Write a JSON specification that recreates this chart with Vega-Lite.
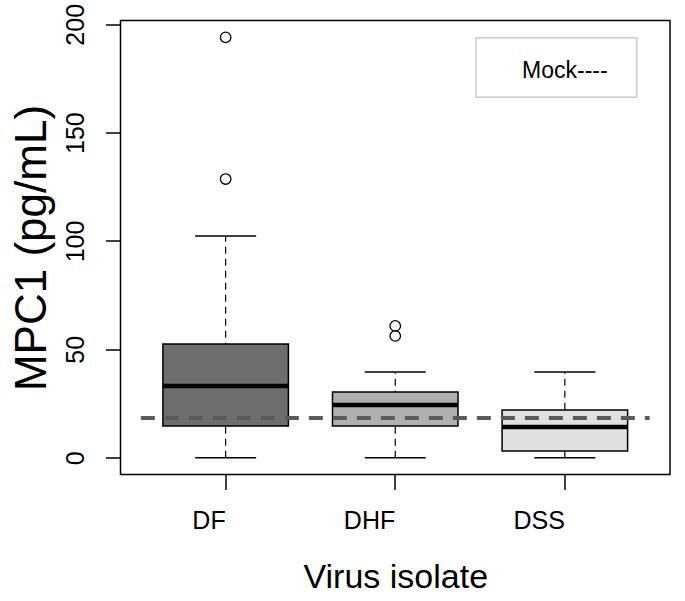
{
  "$schema": "https://vega.github.io/schema/vega-lite/v6.json",
  "autosize": "none",
  "width": 549.5,
  "height": 454,
  "padding": {"left": 120.5, "top": 20.5, "right": 15, "bottom": 126.5},
  "background": "white",
  "config": {
    "font": "Liberation Sans",
    "view": {"stroke": "black", "strokeWidth": 1.5}
  },
  "datasets": {
    "stats": [
      {"group": "DF", "lower": 0, "q1": 14.6, "median": 33.1, "q3": 52.5, "upper": 102.3},
      {"group": "DHF", "lower": 0, "q1": 14.6, "median": 24.3, "q3": 30.3, "upper": 39.5},
      {"group": "DSS", "lower": 0, "q1": 3.1, "median": 14.2, "q3": 22, "upper": 39.5}
    ],
    "outliers": [
      {"group": "DF", "value": 128.6},
      {"group": "DF", "value": 194},
      {"group": "DHF", "value": 56.2},
      {"group": "DHF", "value": 60.8}
    ],
    "one": [{}]
  },
  "layer": [
    {
      "layer": [
        {
          "data": {"name": "stats"},
          "mark": {"type": "rule", "color": "black", "strokeWidth": 1.2, "strokeDash": [7, 5]},
          "encoding": {
            "x": {"field": "group", "type": "nominal"},
            "y": {"field": "lower", "type": "quantitative"},
            "y2": {"field": "upper"}
          }
        },
        {
          "data": {"name": "stats"},
          "mark": {"type": "tick", "orient": "horizontal", "size": 61, "thickness": 1.5, "color": "black", "opacity": 1},
          "encoding": {
            "x": {"field": "group", "type": "nominal"},
            "y": {"field": "lower", "type": "quantitative"}
          }
        },
        {
          "data": {"name": "stats"},
          "mark": {"type": "tick", "orient": "horizontal", "size": 61, "thickness": 1.5, "color": "black", "opacity": 1},
          "encoding": {
            "x": {"field": "group", "type": "nominal"},
            "y": {"field": "upper", "type": "quantitative"}
          }
        },
        {
          "data": {"name": "stats"},
          "mark": {"type": "bar", "width": {"band": 0.74}, "stroke": "black", "strokeWidth": 1.5, "opacity": 1},
          "encoding": {
            "x": {"field": "group", "type": "nominal"},
            "y": {"field": "q1", "type": "quantitative"},
            "y2": {"field": "q3"},
            "fill": {
              "field": "group",
              "type": "nominal",
              "scale": {"domain": ["DF", "DHF", "DSS"], "range": ["#6e6e6e", "#b0b0b0", "#e0e0e0"]},
              "legend": null
            }
          }
        },
        {
          "data": {"name": "stats"},
          "mark": {"type": "tick", "orient": "horizontal", "size": 125, "thickness": 4.5, "color": "black", "opacity": 1},
          "encoding": {
            "x": {"field": "group", "type": "nominal"},
            "y": {"field": "median", "type": "quantitative"}
          }
        },
        {
          "data": {"name": "outliers"},
          "mark": {"type": "point", "shape": "circle", "filled": false, "size": 110, "stroke": "black", "strokeWidth": 1.3, "opacity": 1},
          "encoding": {
            "x": {
              "field": "group",
              "type": "nominal",
              "scale": {"domain": ["DF", "DHF", "DSS"], "paddingInner": 0, "paddingOuter": 0.12},
              "axis": {
                "title": "Virus isolate",
                "titleFontSize": 34,
                "titleFontWeight": "normal",
                "titleColor": "black",
                "titlePadding": 27,
                "labelAngle": 0,
                "labelFontSize": 25,
                "labelColor": "black",
                "labelPadding": 31,
                "tickSize": 15,
                "tickColor": "black",
                "tickWidth": 1.5,
                "domain": false,
                "grid": false
              }
            },
            "y": {
              "field": "value",
              "type": "quantitative",
              "scale": {"domain": [-7.76, 201.76], "nice": false, "zero": false},
              "axis": {
                "title": "MPC1 (pg/mL)",
                "titleFontSize": 44,
                "titleFontWeight": "normal",
                "titleColor": "black",
                "titlePadding": 9,
                "values": [0, 50, 100, 150, 200],
                "labelAngle": -90,
                "labelAlign": "center",
                "labelBaseline": "bottom",
                "labelFontSize": 25,
                "labelColor": "black",
                "labelPadding": 17,
                "tickSize": 15,
                "tickColor": "black",
                "tickWidth": 1.5,
                "domain": false,
                "grid": false
              }
            }
          }
        }
      ]
    },
    {
      "data": {"name": "one"},
      "layer": [
        {
          "mark": {"type": "rule", "color": "#5a5a5a", "strokeWidth": 4, "strokeDash": [14, 10]},
          "encoding": {
            "x": {"datum": 0.5, "type": "quantitative", "scale": {"domain": [0.38, 3.62], "nice": false, "zero": false}, "axis": null},
            "x2": {"datum": 3.5},
            "y": {"datum": 18.3, "type": "quantitative"}
          }
        },
        {
          "mark": {"type": "rect", "fill": "white", "stroke": "#c0c0c0", "strokeWidth": 1.2},
          "encoding": {
            "x": {"datum": 2.476, "type": "quantitative"},
            "x2": {"datum": 3.425},
            "y": {"datum": 193.7, "type": "quantitative"},
            "y2": {"datum": 166.4}
          }
        },
        {
          "mark": {"type": "text", "text": "Mock----", "fontSize": 23, "color": "black", "align": "center", "baseline": "middle"},
          "encoding": {
            "x": {"datum": 3.0, "type": "quantitative"},
            "y": {"datum": 178.5, "type": "quantitative"}
          }
        }
      ]
    }
  ],
  "resolve": {"scale": {"x": "independent"}, "axis": {"x": "independent"}}
}
